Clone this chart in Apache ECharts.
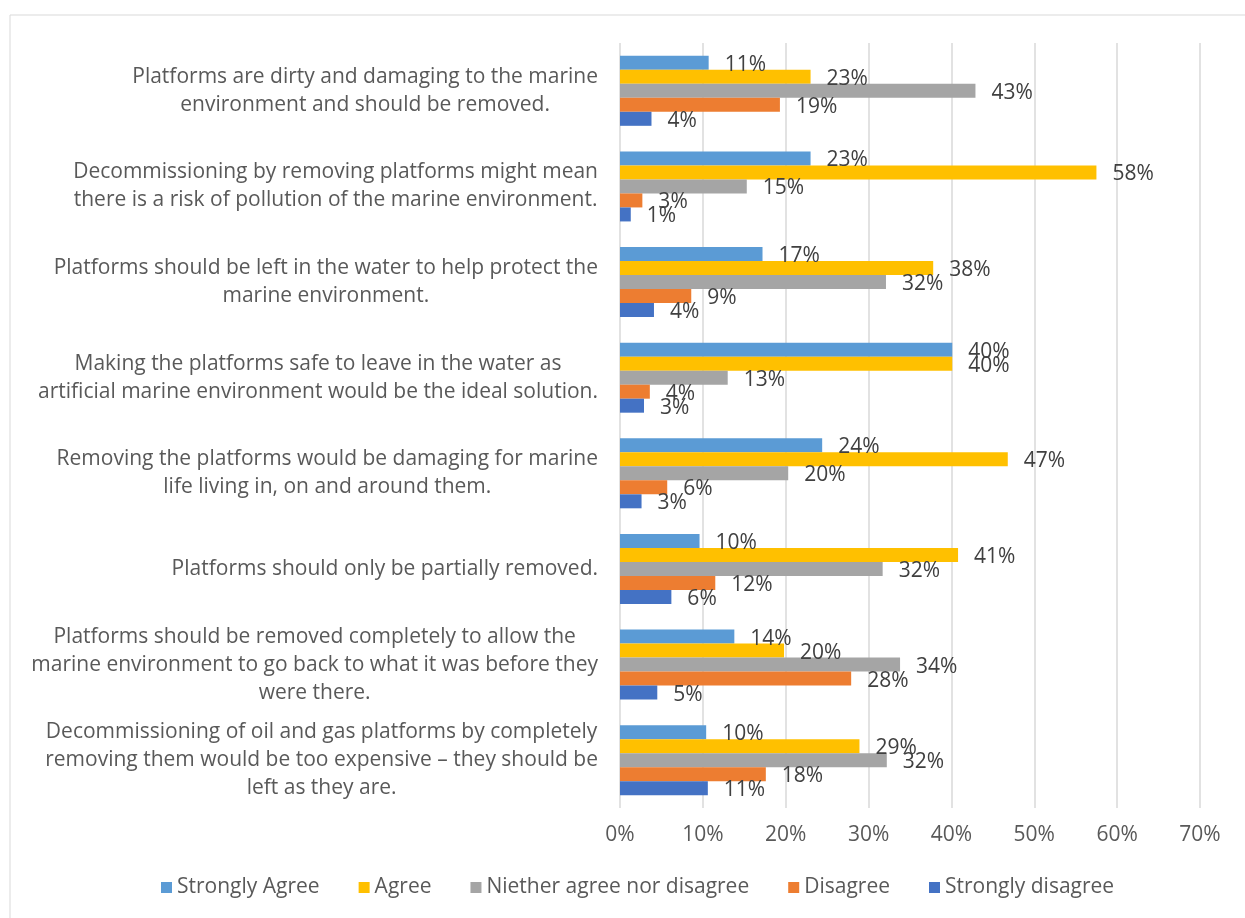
<!DOCTYPE html>
<html>
<head>
<meta charset="utf-8">
<script src="https://cdn.jsdelivr.net/npm/echarts@6/dist/echarts.min.js"></script>
<style>
html,body{margin:0;padding:0;background:#fff;}
#chart{width:1245px;height:918px;}
</style>
</head>
<body>
<div id="chart"></div>
<script>
const categories = [
  "Platforms are dirty and damaging to the marine\nenvironment and should be removed.",
  "Decommissioning by removing platforms might mean\nthere is a risk of pollution of the marine environment.",
  "Platforms should be left in the water to help protect the\nmarine environment.",
  "Making the platforms safe to leave in the water as\nartificial marine environment would be the ideal solution.",
  "Removing the platforms would be damaging for marine\nlife living in, on and around them.",
  "Platforms should only be partially removed.",
  "Platforms should be removed completely to allow the\nmarine environment to go back to what it was before they\nwere there.",
  "Decommissioning of oil and gas platforms by completely\nremoving them would be too expensive \u2013 they should be\nleft as they are."
];
const seriesNames = ["Strongly Agree", "Agree", "Niether agree nor disagree", "Disagree", "Strongly disagree"];
const stronglyAgree = [10.7, 23.0, 17.2, 40.1, 24.4, 9.6, 13.8, 10.4];
const agree = [23.0, 57.5, 37.8, 40.1, 46.8, 40.8, 19.8, 28.9];
const neither = [42.9, 15.3, 32.1, 13.0, 20.3, 31.7, 33.8, 32.2];
const disagree = [19.3, 2.7, 8.6, 3.6, 5.7, 11.5, 27.9, 17.6];
const stronglyDisagree = [3.8, 1.3, 4.1, 2.9, 2.6, 6.2, 4.5, 10.6];
const xTicks = [0, 10, 20, 30, 40, 50, 60, 70];

const colors = ["#5B9BD5", "#FFC000", "#A5A5A5", "#ED7D31", "#4472C4"];
const FONT = "'Open Sans', 'Noto Sans', sans-serif";
const allValues = [stronglyAgree, agree, neither, disagree, stronglyDisagree];

const chart = echarts.init(document.getElementById('chart'), null, {renderer: 'canvas'});
const option = {
  animation: false,
  backgroundColor: '#ffffff',
  textStyle: {fontFamily: FONT},
  graphic: [{
    type: 'rect',
    shape: {x: 10, y: 15, width: 1260, height: 940},
    style: {fill: 'none', stroke: '#D9D9D9', lineWidth: 1},
    silent: true
  }],
  grid: {left: 620, top: 43, width: 580, height: 765, containLabel: false},
  xAxis: {
    type: 'value',
    min: xTicks[0],
    max: xTicks[xTicks.length - 1],
    interval: 10,
    axisLine: {show: false},
    axisTick: {show: false},
    splitLine: {show: true, lineStyle: {color: '#D9D9D9', width: 1.5}},
    axisLabel: {
      formatter: v => v + '%',
      color: '#595959',
      fontSize: 21,
      fontFamily: FONT,
      margin: 17
    }
  },
  yAxis: {
    type: 'category',
    data: categories,
    inverse: true,
    axisLine: {show: false},
    axisTick: {show: false},
    splitLine: {show: false},
    axisLabel: {
      margin: 22,
      formatter: v => '{c|' + v + '}',
      rich: {
        c: {align: 'center', color: '#595959', fontSize: 21, lineHeight: 28, fontFamily: FONT}
      }
    }
  },
  legend: {
    bottom: 15,
    left: 156,
    itemWidth: 11,
    itemHeight: 11,
    itemGap: 39,
    icon: 'rect',
    textStyle: {color: '#595959', fontSize: 21, fontFamily: FONT},
    data: seriesNames
  },
  series: seriesNames.map((name, i) => ({
    name: name,
    type: 'bar',
    data: allValues[i],
    barGap: '0%',
    barCategoryGap: '26.8%',
    itemStyle: {color: colors[i]},
    label: {
      show: true,
      position: 'right',
      distance: 16,
      offset: [0, 2],
      formatter: p => Math.round(p.value) + '%',
      color: '#404040',
      fontSize: 21,
      fontFamily: FONT
    }
  }))
};
chart.setOption(option);
</script>
</body>
</html>
